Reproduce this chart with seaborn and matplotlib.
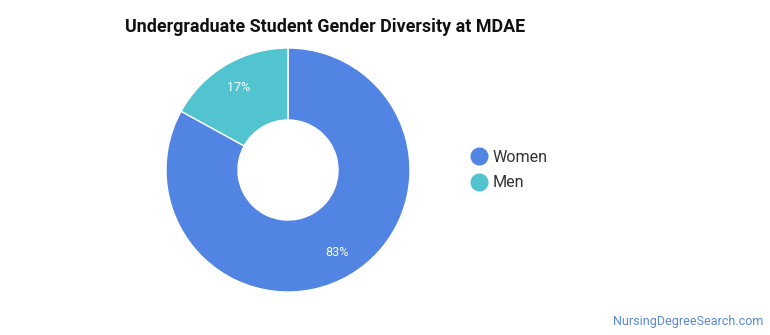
import matplotlib
matplotlib.use("Agg")
import matplotlib.pyplot as plt
import seaborn as sns
from matplotlib.lines import Line2D

categories = ["Women", "Men"]
shares = [83, 17]
colors = ["#5284E4", "#52C4D0"]
title = "Undergraduate Student Gender Diversity at MDAE"
watermark = "NursingDegreeSearch.com"

sns.set_theme(style="white")
plt.rcParams['font.family'] = ['Roboto', 'DejaVu Sans']

W, H = 770, 335
fig = plt.figure(figsize=(W / 100, H / 100), dpi=100)
cx, cy, r = 288, 165, 122
ax = fig.add_axes([(cx - r) / W, (cy - r) / H, 2 * r / W, 2 * r / H])
wedges, texts, autotexts = ax.pie(
    shares, colors=colors, startangle=90, counterclock=False,
    radius=1, autopct=lambda p: f"{p:.0f}%", pctdistance=0.79,
    wedgeprops=dict(width=0.59, edgecolor="white", linewidth=1),
    textprops=dict(color="white", fontsize=9))
ax.set_xlim(-1, 1)
ax.set_ylim(-1, 1)
ax.set_aspect("equal")
ax.axis("off")

fig.text(125 / W, 1 - 27 / H, title, fontsize=12.9, fontweight="bold",
         color="#111111", va="center", ha="left")

handles = [Line2D([0], [0], marker="o", linestyle="", markersize=12,
                  markerfacecolor=c, markeredgecolor=c) for c in colors]
fig.legend(handles, categories, loc="center left",
           bbox_to_anchor=(455 / W, 1 - 170 / H), frameon=False,
           fontsize=11.6, handletextpad=0.25, labelspacing=0.65,
           handlelength=1.2, labelcolor="#333333")

fig.text(763 / W, 1 - 321 / H, watermark, fontsize=9, color="#5a88d8",
         ha="right", va="center")

fig.savefig("out.png", dpi=100, facecolor="white")
